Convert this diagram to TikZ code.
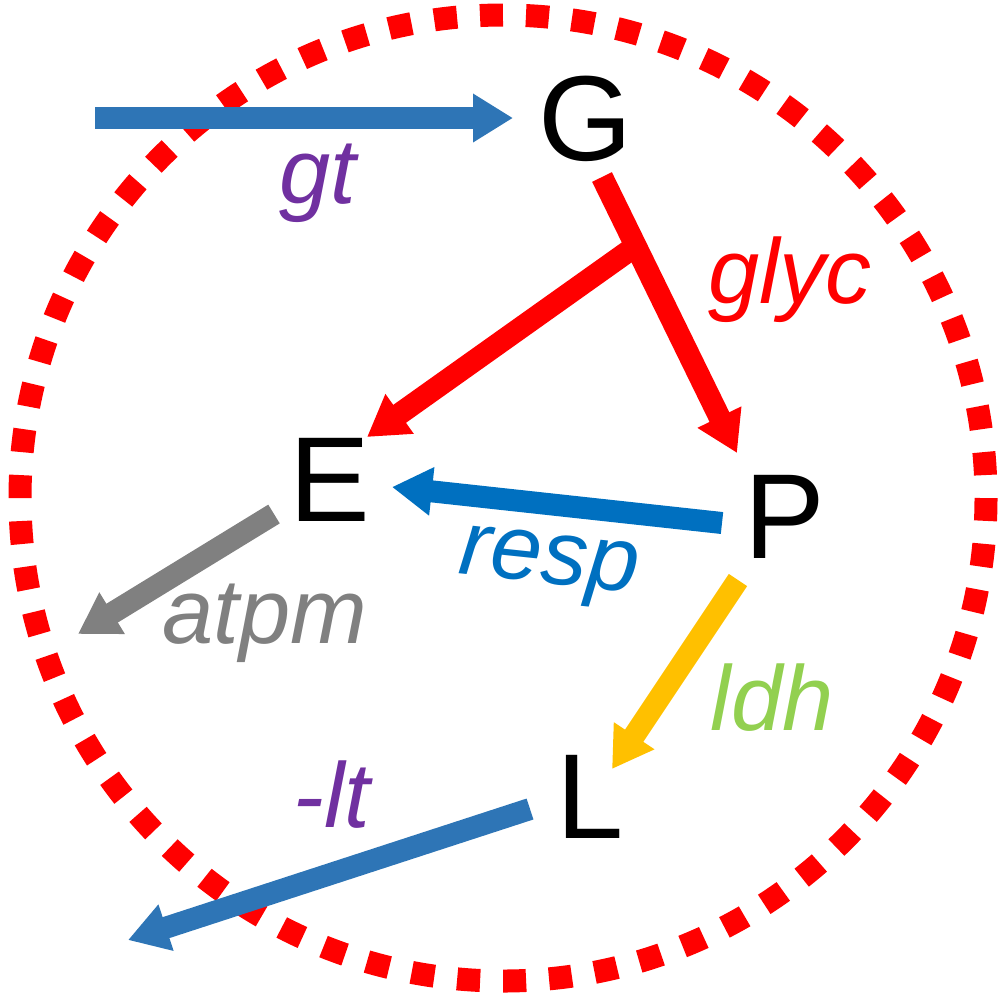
\documentclass[tikz,border=0pt]{standalone}
\usepackage{fontspec}
\setmainfont{Liberation Sans}
\usetikzlibrary{arrows.meta, calc}
\definecolor{ring}{HTML}{FF0000}
\definecolor{steel}{HTML}{2E75B6}
\definecolor{azure}{HTML}{0070C0}
\definecolor{plum}{HTML}{7030A0}
\definecolor{slate}{HTML}{808080}
\definecolor{amber}{HTML}{FFC000}
\definecolor{lime}{HTML}{92D050}
\tikzset{
  >={Triangle[length=4mm, width=4.6mm]},
  %
  metab/.style={font=\fontsize{34.4pt}{36pt}\selectfont, text=black,
                inner sep=0pt, anchor=base},
  enz/.style={font=\fontsize{26.2pt}{28pt}\selectfont\itshape,
              inner sep=0pt, anchor=base},
  %
  flux/.style={line width=2.2mm, ->},
  cell/.style={draw=ring, line width=2.3mm, dash pattern=on 2.3mm off 2.299mm,
               dash phase=2.3mm},
}

\begin{document}
\begin{tikzpicture}[x=0.1mm, y=-0.1mm]
\useasboundingbox (0,0) rectangle (1004,997);

% =========================================================================
% the cell boundary
% =========================================================================
\draw[cell] (503,498) circle[radius=48.3mm];

% =========================================================================
% metabolites
% =========================================================================
\node[metab] (g) at (586,160) {G};
\node[metab] (e) at (330,521) {E};
\node[metab] (p) at (785,558) {P};
\node[metab] (l) at (590,838) {L};

% =========================================================================
% fluxes
% =========================================================================
% uptake
\coordinate (gt-in)  at (95,118);
\coordinate (gt-out) at (513,118);
\draw[flux, draw=steel] (gt-in) -- (gt-out);
\node[enz, text=plum] (gt) at (318,203) {gt};

% glycolysis, forked towards E
\coordinate (glyc-in) at (602,177);
\coordinate (glyc-p)  at (737,453);
\coordinate (glyc-e)  at (367,437);
\coordinate (fork) at ($(glyc-in)!0.25!(glyc-p)$);
\draw[flux, draw=ring] (fork) -- (glyc-e);
\draw[flux, draw=ring] (glyc-in) -- (glyc-p);
\node[enz, text=ring] (glyc) at (790,303) {glyc};

% respiration back to E
\coordinate (resp-in)  at (722,523);
\coordinate (resp-out) at (392,487);
\draw[flux, draw=azure] (resp-in) -- (resp-out);
\node[enz, text=azure, rotate=-6] (resp) at (547,583) {resp};

% maintenance drain
\coordinate (atpm-in)  at (274,514);
\coordinate (atpm-out) at (78,634);
\draw[flux, draw=slate] (atpm-in) -- (atpm-out);
\node[enz, text=slate] (atpm) at (265,643) {atpm};

% P to L
\coordinate (ldh-in)  at (738,580);
\coordinate (ldh-out) at (612,769);
\draw[flux, draw=amber] (ldh-in) -- (ldh-out);
\node[enz, text=lime] (ldh) at (772,730) {ldh};

% export of L
\coordinate (lt-in)  at (530,809);
\coordinate (lt-out) at (128,940);
\draw[flux, draw=steel] (lt-in) -- (lt-out);
\node[enz, text=plum] (lt) at (332,827) {-lt};

\end{tikzpicture}
\end{document}
